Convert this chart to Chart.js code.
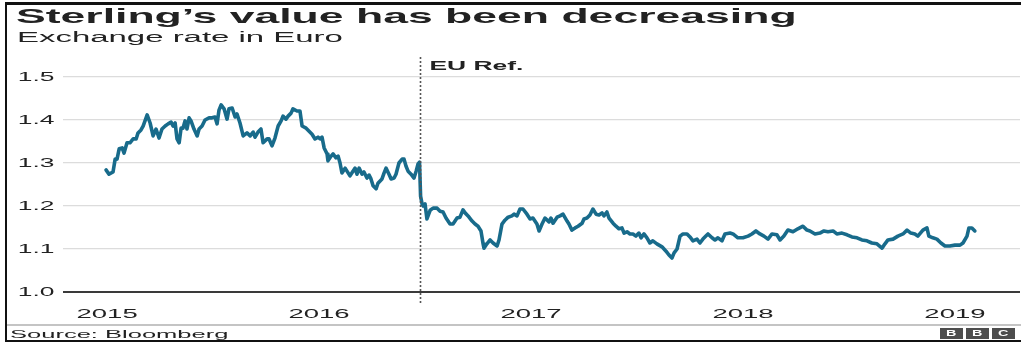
<!DOCTYPE html>
<html>
<head>
<meta charset="utf-8">
<title>Sterling against the euro</title>
<script src="https://cdn.jsdelivr.net/npm/chart.js@4/dist/chart.umd.min.js"></script>
<style>
  html, body { margin: 0; padding: 0; background: #fff; }
  #wrap { position: relative; width: 1021px; height: 347px; overflow: hidden; font-family: "Liberation Sans", Arial, sans-serif; color: #222; }
  #gbpChart { position: absolute; left: 0; top: 0; }
  .edge { position: absolute; background: #111; }
  .rule { position: absolute; background: #c4c4c4; }
  .txt { position: absolute; white-space: nowrap; line-height: 1; display: inline-block; transform-origin: 0 0; }
  .title { left: 16px; top: 5.6px; font-size: 20.5px; font-weight: bold; }
  .sub { left: 17px; top: 30px; font-size: 14px; }
  .source { left: 9.5px; top: 328.7px; font-size: 11px; }
  .bbc { position: absolute; top: 328px; width: 23px; height: 10.5px; background: #4d4d4d; color: #fff; font-weight: bold; font-size: 9px; line-height: 10.5px; text-align: center; }
  .bbc span { display: inline-block; transform: scaleX(1.6); }
</style>
</head>
<body>
<div id="wrap">
  <canvas id="gbpChart" width="1021" height="347"></canvas>
  <div class="edge" style="left:5px; top:2px; width:1016px; height:2.5px;"></div>
  <div class="edge" style="left:5px; top:2px; width:2px; height:340px;"></div>
  <div class="edge" style="left:5px; top:340px; width:1016px; height:2px;"></div>
  <div class="rule" style="left:7px; top:324px; width:1014px; height:2px;"></div>
  <div class="txt title" data-w="780">Sterling’s value has been decreasing</div>
  <div class="txt sub" data-w="327">Exchange rate in Euro</div>
  <div class="txt source" data-w="218">Source: Bloomberg</div>
  <div class="bbc" style="left:940px;"><span>B</span></div>
  <div class="bbc" style="left:966px;"><span>B</span></div>
  <div class="bbc" style="left:992px;"><span>C</span></div>
</div>
<script>
// GBP/EUR, positions in decimal years
const years = [
  2014.995, 2015.009, 2015.028, 2015.038, 2015.047, 2015.057, 2015.071, 2015.080, 2015.094, 2015.108,
  2015.123, 2015.137, 2015.146, 2015.160, 2015.170, 2015.189, 2015.203, 2015.217, 2015.231, 2015.245,
  2015.259, 2015.274, 2015.288, 2015.302, 2015.311, 2015.321, 2015.330, 2015.340, 2015.349, 2015.358,
  2015.368, 2015.377, 2015.387, 2015.396, 2015.410, 2015.425, 2015.434, 2015.448, 2015.462, 2015.481,
  2015.495, 2015.509, 2015.519, 2015.528, 2015.538, 2015.552, 2015.566, 2015.575, 2015.590, 2015.604,
  2015.613, 2015.627, 2015.642, 2015.660, 2015.675, 2015.689, 2015.698, 2015.712, 2015.726, 2015.736,
  2015.755, 2015.764, 2015.778, 2015.792, 2015.807, 2015.821, 2015.830, 2015.844, 2015.854, 2015.868,
  2015.877, 2015.896, 2015.910, 2015.920, 2015.939, 2015.953, 2015.967, 2015.981, 2015.995, 2016.005,
  2016.014, 2016.024, 2016.038, 2016.042, 2016.057, 2016.066, 2016.080, 2016.090, 2016.099, 2016.108,
  2016.123, 2016.137, 2016.146, 2016.160, 2016.170, 2016.179, 2016.189, 2016.203, 2016.212, 2016.226,
  2016.236, 2016.245, 2016.255, 2016.269, 2016.278, 2016.297, 2016.307, 2016.316, 2016.330, 2016.340,
  2016.354, 2016.363, 2016.377, 2016.392, 2016.401, 2016.410, 2016.420, 2016.434, 2016.448, 2016.458,
  2016.467, 2016.474, 2016.479, 2016.486, 2016.491, 2016.500, 2016.509, 2016.524, 2016.538, 2016.557,
  2016.571, 2016.585, 2016.599, 2016.618, 2016.632, 2016.651, 2016.665, 2016.679, 2016.689, 2016.703,
  2016.722, 2016.736, 2016.750, 2016.764, 2016.774, 2016.778, 2016.792, 2016.807, 2016.821, 2016.840,
  2016.849, 2016.863, 2016.877, 2016.892, 2016.910, 2016.920, 2016.934, 2016.948, 2016.962, 2016.981,
  2016.995, 2017.009, 2017.028, 2017.038, 2017.052, 2017.066, 2017.085, 2017.094, 2017.104, 2017.123,
  2017.137, 2017.151, 2017.170, 2017.179, 2017.193, 2017.208, 2017.222, 2017.241, 2017.250, 2017.264,
  2017.278, 2017.292, 2017.307, 2017.321, 2017.335, 2017.344, 2017.358, 2017.368, 2017.387, 2017.401,
  2017.415, 2017.429, 2017.439, 2017.453, 2017.467, 2017.481, 2017.495, 2017.509, 2017.519, 2017.533,
  2017.547, 2017.561, 2017.575, 2017.594, 2017.618, 2017.637, 2017.651, 2017.665, 2017.675, 2017.689,
  2017.703, 2017.717, 2017.736, 2017.750, 2017.764, 2017.783, 2017.797, 2017.811, 2017.825, 2017.835,
  2017.854, 2017.868, 2017.882, 2017.901, 2017.915, 2017.939, 2017.953, 2017.976, 2018.000, 2018.024,
  2018.042, 2018.061, 2018.080, 2018.099, 2018.118, 2018.137, 2018.160, 2018.175, 2018.193, 2018.212,
  2018.236, 2018.259, 2018.283, 2018.302, 2018.316, 2018.340, 2018.363, 2018.382, 2018.401, 2018.425,
  2018.443, 2018.467, 2018.491, 2018.514, 2018.538, 2018.561, 2018.585, 2018.608, 2018.632, 2018.656,
  2018.670, 2018.684, 2018.708, 2018.731, 2018.755, 2018.774, 2018.792, 2018.811, 2018.825, 2018.849,
  2018.868, 2018.877, 2018.896, 2018.915, 2018.934, 2018.953, 2018.976, 2019.000, 2019.024, 2019.038,
  2019.057, 2019.066, 2019.080, 2019.094
]

const rates = [
  1.284, 1.274, 1.279, 1.309, 1.309, 1.333, 1.335, 1.323, 1.347, 1.347,
  1.356, 1.356, 1.370, 1.377, 1.386, 1.412, 1.393, 1.363, 1.379, 1.358,
  1.379, 1.386, 1.391, 1.395, 1.386, 1.393, 1.356, 1.347, 1.381, 1.381,
  1.398, 1.379, 1.405, 1.398, 1.379, 1.363, 1.379, 1.386, 1.400, 1.405,
  1.405, 1.407, 1.391, 1.423, 1.435, 1.426, 1.402, 1.426, 1.428, 1.407,
  1.414, 1.393, 1.363, 1.370, 1.363, 1.372, 1.360, 1.372, 1.379, 1.347,
  1.356, 1.356, 1.340, 1.358, 1.386, 1.398, 1.409, 1.402, 1.409, 1.416,
  1.426, 1.421, 1.421, 1.386, 1.381, 1.374, 1.367, 1.356, 1.360, 1.356,
  1.360, 1.335, 1.321, 1.305, 1.316, 1.321, 1.312, 1.316, 1.300, 1.277,
  1.288, 1.277, 1.270, 1.281, 1.288, 1.274, 1.288, 1.274, 1.279, 1.265,
  1.272, 1.263, 1.247, 1.240, 1.253, 1.263, 1.277, 1.288, 1.274, 1.263,
  1.265, 1.274, 1.300, 1.309, 1.309, 1.293, 1.281, 1.274, 1.265, 1.281,
  1.298, 1.302, 1.223, 1.205, 1.200, 1.205, 1.170, 1.190, 1.195, 1.195,
  1.188, 1.186, 1.172, 1.158, 1.158, 1.172, 1.174, 1.191, 1.184, 1.177,
  1.165, 1.158, 1.153, 1.142, 1.112, 1.102, 1.112, 1.121, 1.114, 1.107,
  1.121, 1.158, 1.167, 1.174, 1.177, 1.181, 1.177, 1.193, 1.193, 1.181,
  1.170, 1.172, 1.158, 1.142, 1.158, 1.172, 1.163, 1.172, 1.160, 1.174,
  1.177, 1.181, 1.165, 1.158, 1.144, 1.149, 1.153, 1.160, 1.170, 1.172,
  1.179, 1.193, 1.181, 1.179, 1.184, 1.177, 1.186, 1.172, 1.160, 1.153,
  1.147, 1.149, 1.137, 1.140, 1.135, 1.135, 1.130, 1.137, 1.126, 1.135,
  1.126, 1.114, 1.119, 1.112, 1.105, 1.095, 1.086, 1.079, 1.091, 1.100,
  1.130, 1.135, 1.135, 1.128, 1.119, 1.123, 1.114, 1.123, 1.130, 1.135,
  1.126, 1.121, 1.126, 1.119, 1.135, 1.137, 1.135, 1.126, 1.126, 1.130,
  1.135, 1.142, 1.135, 1.130, 1.123, 1.135, 1.133, 1.121, 1.130, 1.144,
  1.140, 1.147, 1.153, 1.144, 1.142, 1.135, 1.137, 1.142, 1.140, 1.142,
  1.135, 1.137, 1.133, 1.128, 1.126, 1.121, 1.119, 1.114, 1.112, 1.102,
  1.112, 1.121, 1.123, 1.130, 1.135, 1.144, 1.137, 1.135, 1.130, 1.144,
  1.149, 1.130, 1.126, 1.123, 1.114, 1.107, 1.107, 1.109, 1.109, 1.114,
  1.130, 1.149, 1.149, 1.142
]

const yearTicks = [2015, 2016, 2017, 2018, 2019]
const rateTicks = [1.0, 1.1, 1.2, 1.3, 1.4, 1.5]

// 23 June 2016
const euRefDate = 2016.475
const euRefLabel = 'EU Ref.'

const lineColour = '#186b8b'
const textColour = '#222'
const fontFamily = '"Liberation Sans", Arial, sans-serif'

// widen the html labels to the set width
document.querySelectorAll('.txt').forEach(function(el) {
    const w = parseFloat(el.dataset.w)
    el.style.transform = 'scaleX(' + (w / el.offsetWidth) + ')'
})

function wideText(ctx, text, x, y, sx, align) {
    ctx.save()
    ctx.translate(x, y)
    ctx.scale(sx, 1)
    ctx.textAlign = align
    ctx.fillText(text, 0, 0)
    ctx.restore()
}

// axis labels and the referendum marker
const annotate = {
    id: 'annotate',
    afterDraw(chart) {
        const ctx = chart.ctx
        const x = chart.scales.x
        const y = chart.scales.y

        ctx.save()
        ctx.fillStyle = textColour
        ctx.textBaseline = 'alphabetic'

        ctx.font = '12px ' + fontFamily
        rateTicks.forEach(function(v) {
            wideText(ctx, v.toFixed(1), 54.5, y.getPixelForValue(v) + 4.4, 2.2, 'right')
        })

        ctx.font = '12.5px ' + fontFamily
        yearTicks.forEach(function(v) {
            wideText(ctx, String(v), x.getPixelForValue(v), 317.5, 2.2, 'center')
        })

        const px = Math.round(x.getPixelForValue(euRefDate)) + 0.5
        ctx.strokeStyle = '#555'
        ctx.lineWidth = 1.6
        ctx.setLineDash([2, 2])
        ctx.beginPath()
        ctx.moveTo(px, 57)
        ctx.lineTo(px, 304)
        ctx.stroke()

        ctx.font = 'bold 12px ' + fontFamily
        wideText(ctx, euRefLabel, px + 9, 70, 2.2, 'left')
        ctx.restore()
    }
}

new Chart(document.getElementById('gbpChart'), {
    type: 'line',
    data: {
        datasets: [{
            label: 'GBP/EUR',
            data: years.map(function(yr, i) { return { x: yr, y: rates[i] } }),
            borderColor: lineColour,
            borderWidth: 3.6,
            borderJoinStyle: 'round',
            borderCapStyle: 'round',
            pointRadius: 0,
            tension: 0,
            fill: false
        }]
    },
    options: {
        responsive: false,
        animation: false,
        devicePixelRatio: 1,
        layout: {
            padding: { left: 63, top: 77, right: 1, bottom: 47 }
        },
        plugins: {
            legend: { display: false },
            tooltip: { enabled: false }
        },
        scales: {
            x: {
                type: 'linear',
                min: 2014.792,
                max: 2019.307,
                afterBuildTicks: function(s) { s.ticks = yearTicks.map(function(v) { return { value: v } }) },
                grid: { display: false },
                border: { display: false },
                ticks: { display: false }
            },
            y: {
                min: 1.0,
                max: 1.5,
                afterBuildTicks: function(s) { s.ticks = rateTicks.map(function(v) { return { value: v } }) },
                grid: {
                    drawTicks: false,
                    color: function(c) { return c.tick && c.tick.value === 1 ? '#3a3a3a' : '#dcdcdc' },
                    lineWidth: function(c) { return c.tick && c.tick.value === 1 ? 2 : 1.3 }
                },
                border: { display: false },
                ticks: { display: false }
            }
        }
    },
    plugins: [annotate]
})
</script>
</body>
</html>
